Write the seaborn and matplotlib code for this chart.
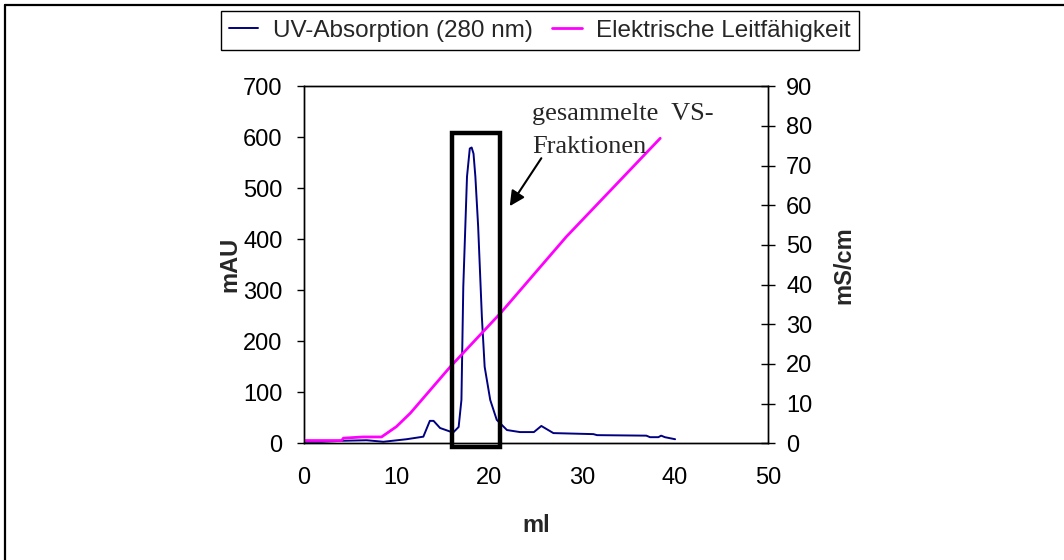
import matplotlib
matplotlib.use("Agg")
import matplotlib.pyplot as plt
import seaborn as sns
import pandas as pd
from matplotlib.patches import Rectangle
from matplotlib.lines import Line2D

# --- data ---
uv_ml = [0.0, 2.0, 4.3, 6.8, 8.6, 11.1, 12.9, 13.6, 14.0, 14.7, 16.1, 16.7, 17.0, 17.2,
         17.6, 17.9, 18.1, 18.3, 18.5, 18.8, 19.2, 19.5, 20.1, 20.8, 21.9, 23.3, 24.8,
         25.6, 26.9, 31.2, 31.6, 36.9, 37.3, 38.2, 38.5, 38.9, 40.0]
uv_mau = [3, 3, 5, 6, 3, 8, 13, 44, 44, 30, 21, 32, 85, 307,
          523, 578, 580, 568, 523, 425, 248, 150, 85, 46, 26, 22, 22,
          34, 20, 18, 16, 15, 12, 12, 15, 12, 8]

cond_ml = [0.0, 4.1, 4.3, 6.4, 8.4, 10.0, 11.5, 15.8, 21.2, 28.3, 38.4]
cond_mscm = [0.7, 0.7, 1.3, 1.6, 1.6, 4.2, 7.6, 19.3, 32.8, 52.1, 76.9]

x_ticks = [0, 10, 20, 30, 40, 50]
y_ticks = [0, 100, 200, 300, 400, 500, 600, 700]
y2_ticks = [0, 10, 20, 30, 40, 50, 60, 70, 80, 90]

uv_label = "UV-Absorption (280 nm)"
cond_label = "Elektrische Leitfähigkeit"

uv_df = pd.DataFrame({"ml": uv_ml, "mAU": uv_mau})
cond_df = pd.DataFrame({"ml": cond_ml, "mS/cm": cond_mscm})

sns.set_style("white")
plt.rcParams["font.family"] = ["Liberation Sans", "DejaVu Sans"]

fig = plt.figure(figsize=(10.64, 5.6), dpi=100)
ax = fig.add_axes([303.5 / 1064, 1 - 443.3 / 560, 464.5 / 1064, 357 / 560])
ax2 = ax.twinx()

sns.lineplot(data=uv_df, x="ml", y="mAU", ax=ax, color="#000080", linewidth=1.4,
             label=uv_label, legend=False)
sns.lineplot(data=cond_df, x="ml", y="mS/cm", ax=ax2, color="#FF00FF", linewidth=2.0,
             label=cond_label, legend=False)

ax.set_xlim(0, 50)
ax.set_ylim(0, 700)
ax2.set_ylim(0, 90)
ax.set_xticks(x_ticks)
ax.set_yticks(y_ticks)
ax2.set_yticks(y2_ticks)

for a in (ax, ax2):
    for s in a.spines.values():
        s.set_color("black")
        s.set_linewidth(1.0)
    a.grid(False)

ax.tick_params(axis="x", direction="out", length=5, width=1, labelsize=17, pad=12, colors="black")
ax.tick_params(axis="y", direction="out", length=5, width=1, labelsize=17, pad=10, colors="black", left=True)
ax2.tick_params(axis="y", direction="inout", length=10, width=1, labelsize=17, pad=8, colors="black", right=True)

ax.set_xlabel("ml", fontsize=17, fontweight="bold", labelpad=18)
ax.set_ylabel("mAU", fontsize=17, fontweight="bold", labelpad=1)
ax2.set_ylabel("mS/cm", fontsize=17, fontweight="bold", labelpad=14)

# highlighted fraction box
rect = Rectangle((16.0, -7), 5.15, 615, transform=ax.transData, fill=False,
                 edgecolor="black", linewidth=3.2, clip_on=False, zorder=10)
ax2.add_patch(rect)

ax2.annotate("", xy=(22.2, 465), xytext=(25.6, 559),
             xycoords=ax.transData, textcoords=ax.transData,
             arrowprops=dict(arrowstyle="-|>,head_length=0.9,head_width=0.45",
                             color="black", linewidth=1.5, shrinkA=0, shrinkB=0),
             zorder=11)

serif = ["Liberation Serif", "DejaVu Serif"]
ax2.text(24.6, 634, "gesammelte  VS-", transform=ax.transData, fontsize=19,
         family=serif, ha="left", va="baseline", zorder=11)
ax2.text(24.6, 569, "Fraktionen", transform=ax.transData, fontsize=19,
         family=serif, ha="left", va="baseline", zorder=11)

# legend
h1 = Line2D([], [], color="#000080", linewidth=1.4)
h2 = Line2D([], [], color="#FF00FF", linewidth=2.0)
leg = fig.legend([h1, h2], [uv_label, cond_label], ncol=2, loc="center",
                 bbox_to_anchor=(540 / 1064, 1 - 30.5 / 560), fontsize=17.5, frameon=True,
                 fancybox=False, edgecolor="black", framealpha=1, borderpad=0.35,
                 handlelength=1.2, handletextpad=0.6, columnspacing=0.8, borderaxespad=0)
leg.get_frame().set_linewidth(1.0)

# outer chart frame (top and left edges visible)
fig.add_artist(Line2D([5 / 1064, 1], [1 - 5 / 560, 1 - 5 / 560], color="black", linewidth=1.6,
                      transform=fig.transFigure))
fig.add_artist(Line2D([5 / 1064, 5 / 1064], [0, 1 - 5 / 560], color="black", linewidth=1.6,
                      transform=fig.transFigure))

fig.savefig("out.png", dpi=100)
